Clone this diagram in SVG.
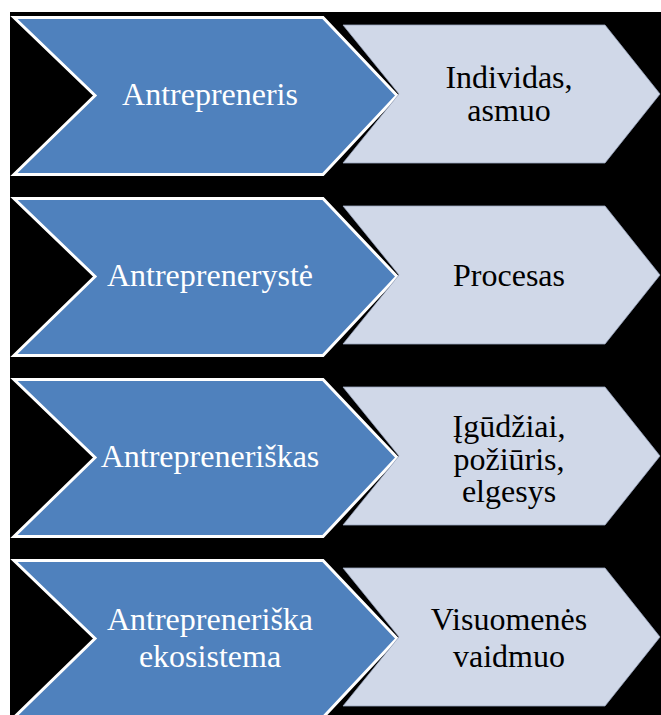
<svg xmlns="http://www.w3.org/2000/svg" width="661" height="715" viewBox="0 0 661 715">
  <defs>
    <style>
      .bg { fill: #000000; }
      .blue { fill: #4F81BD; stroke: #FFFFFF; stroke-width: 3; stroke-linejoin: miter; }
      .gray { fill: #D0D8E8; stroke: #9AA6BE; stroke-width: 0.8; }
      .tw { fill: #FFFFFF; text-anchor: middle; }
      .tb { fill: #000000; text-anchor: middle; }
    </style>
  </defs>
  <rect class="bg" x="10" y="12" width="651" height="703"/>

  <g font-family="Liberation Serif, DejaVu Serif, Noto Serif, Times New Roman, serif" font-size="32">
  <g id="row1">
    <g id="n-antrepreneris">
      <polygon class="blue" points="14,17.5 323,17.5 397,95.5 323,174.5 14,174.5 95,95.5"/>
      <text class="tw" x="210" y="105">Antrepreneris</text>
    </g>
    <g id="n-individas">
      <polygon class="gray" points="343,25 605,25 660,94 605,163 343,163 399,94"/>
      <text class="tb" x="509" y="88">Individas,</text>
      <text class="tb" x="509" y="121">asmuo</text>
    </g>
  </g>

  <g id="row2" transform="translate(0,181)">
    <g id="n-antrepreneryste">
      <polygon class="blue" points="14,17.5 323,17.5 397,95.5 323,174.5 14,174.5 95,95.5"/>
      <text class="tw" x="210" y="105">Antrepreneryst&#279;</text>
    </g>
    <g id="n-procesas">
      <polygon class="gray" points="343,25 605,25 660,94 605,163 343,163 399,94"/>
      <text class="tb" x="509" y="105">Procesas</text>
    </g>
  </g>

  <g id="row3" transform="translate(0,362)">
    <g id="n-antrepreneriskas">
      <polygon class="blue" points="14,17.5 323,17.5 397,95.5 323,174.5 14,174.5 95,95.5"/>
      <text class="tw" x="210" y="105">Antrepreneri&#353;kas</text>
    </g>
    <g id="n-igudziai">
      <polygon class="gray" points="343,25 605,25 660,94 605,163 343,163 399,94"/>
      <text class="tb" x="509" y="75">&#302;g&#363;d&#382;iai,</text>
      <text class="tb" x="509" y="108">po&#382;i&#363;ris,</text>
      <text class="tb" x="509" y="140">elgesys</text>
    </g>
  </g>

  <g id="row4" transform="translate(0,543)">
    <g id="n-ekosistema">
      <polygon class="blue" points="14,17.5 323,17.5 397,95.5 323,174.5 14,174.5 95,95.5"/>
      <text class="tw" x="210" y="87">Antrepreneri&#353;ka</text>
      <text class="tw" x="210" y="124">ekosistema</text>
    </g>
    <g id="n-visuomenes">
      <polygon class="gray" points="343,25 605,25 660,94 605,163 343,163 399,94"/>
      <text class="tb" x="509" y="87">Visuomen&#279;s</text>
      <text class="tb" x="509" y="124">vaidmuo</text>
    </g>
  </g>
  </g>

  <g id="connectors"></g>
</svg>
